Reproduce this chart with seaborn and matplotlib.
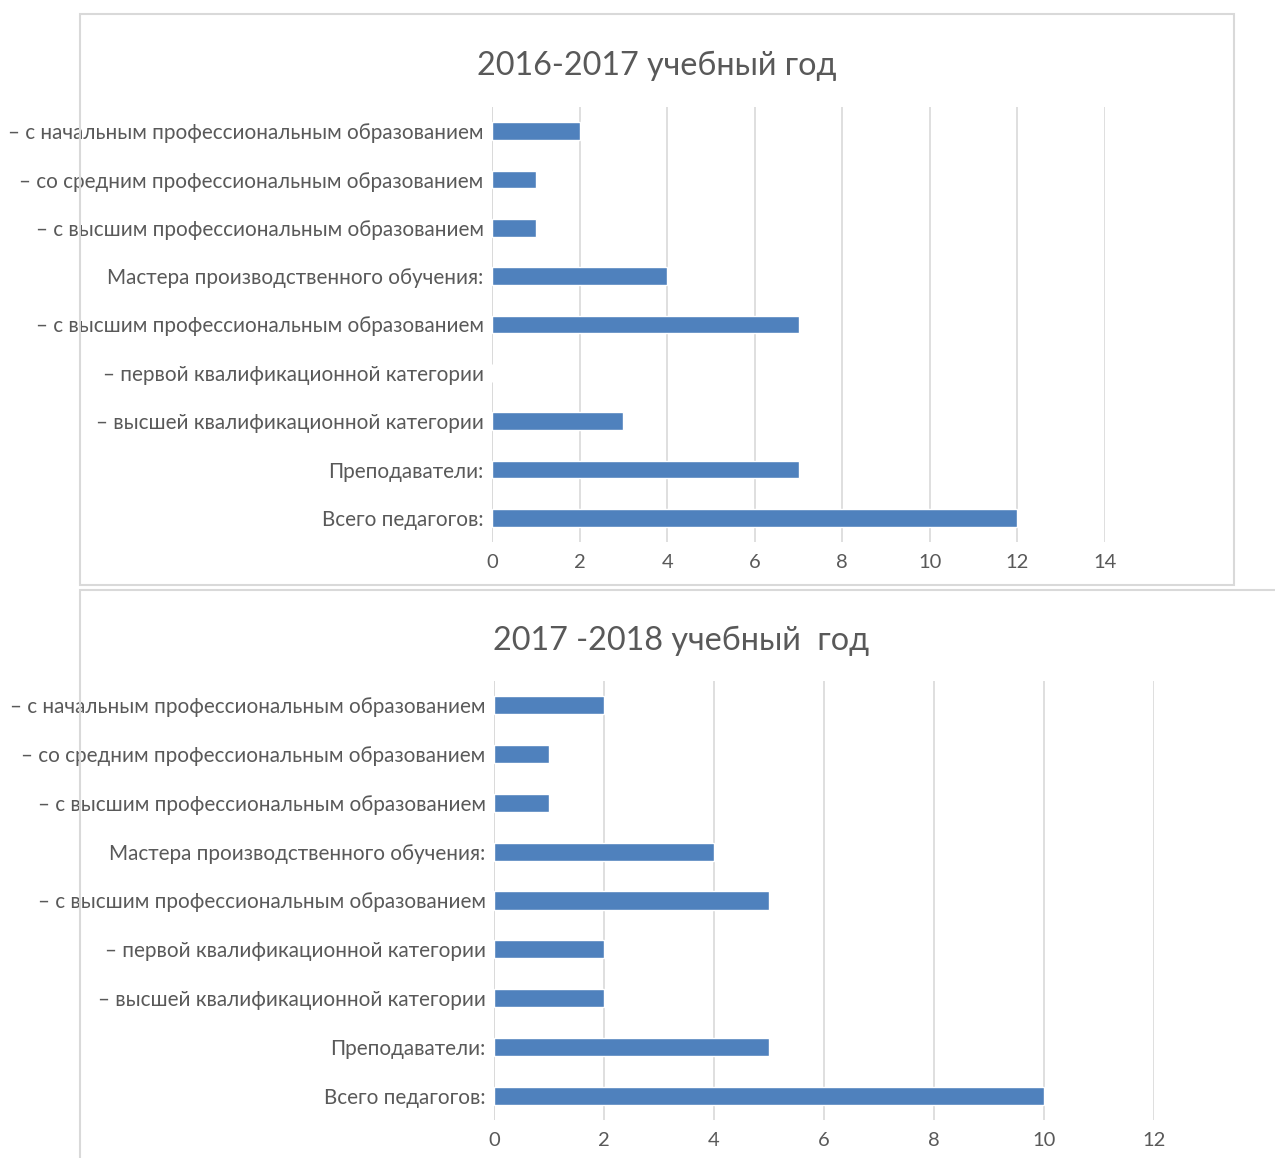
import pandas as pd
import matplotlib.pyplot as plt
import seaborn as sns
from matplotlib.patches import Rectangle

# categories, top to bottom
labels = [
    "– с начальным профессиональным образованием",
    "– со средним профессиональным образованием",
    "– с высшим профессиональным образованием",
    "Мастера производственного обучения:",
    "– с высшим профессиональным образованием",
    "– первой квалификационной категории",
    "– высшей квалификационной категории",
    "Преподаватели:",
    "Всего педагогов:",
]
values_2016 = [2, 1, 1, 4, 7, 0, 3, 7, 12]
values_2017 = [2, 1, 1, 4, 5, 2, 2, 5, 10]
ticks_2016 = [0, 2, 4, 6, 8, 10, 12, 14]
ticks_2017 = [0, 2, 4, 6, 8, 10, 12]
title_2016 = "2016-2017 учебный год"
title_2017 = "2017 -2018 учебный  год"

BAR = "#4F81BD"
TXT = "#595959"
GRID = "#D9D9D9"

sns.set_theme(style="white")
plt.rcParams['font.family'] = ['Lato', 'DejaVu Sans']

W, H = 1275, 1158
fig = plt.figure(figsize=(W / 100, H / 100), dpi=100)


def fx(px):
    return px / W


def fy(py):
    return 1 - py / H


# chart frames
fig.patches.append(Rectangle((fx(80), fy(585)), fx(1234) - fx(80), fy(14) - fy(585),
                             transform=fig.transFigure, fill=False, ec=GRID, lw=1.5))
fig.patches.append(Rectangle((fx(80), fy(1170)), fx(1290) - fx(80), fy(590) - fy(1170),
                             transform=fig.transFigure, fill=False, ec=GRID, lw=1.5))


def draw(rect, values, ticks, title, title_x, title_y):
    ax = fig.add_axes(rect)
    df = pd.DataFrame({"row": [str(i) for i in range(len(labels))], "value": values})
    sns.barplot(data=df, x="value", y="row", orient="h", color=BAR, width=0.37,
                saturation=1, ax=ax, zorder=3)
    ax.set_xlim(ticks[0], ticks[-1])
    ax.set_ylim(len(labels) - 0.5, -0.5)
    ax.set_xticks(ticks)
    ax.set_yticks(range(len(labels)))
    ax.set_yticklabels(labels)
    ax.set_xlabel("")
    ax.set_ylabel("")
    ax.grid(axis="x", color=GRID, lw=1.2, zorder=0)
    for s in ax.spines.values():
        s.set_visible(False)
    ax.tick_params(axis="both", length=0, colors=TXT)
    ax.tick_params(axis="y", pad=6, labelsize=14.9)
    ax.tick_params(axis="x", pad=9, labelsize=14.5)
    ax.axvline(0, color=GRID, lw=1.2, zorder=1)
    fig.text(title_x, title_y, title, ha="center", va="center", fontsize=23.3, color=TXT)
    return ax


draw([fx(492), fy(542), fx(1105) - fx(492), fy(107) - fy(542)],
     values_2016, ticks_2016, title_2016, fx(657), fy(66))
draw([fx(494), fy(1120), fx(1154) - fx(494), fy(681) - fy(1120)],
     values_2017, ticks_2017, title_2017, fx(681), fy(641))

fig.savefig("out.png", dpi=100)
